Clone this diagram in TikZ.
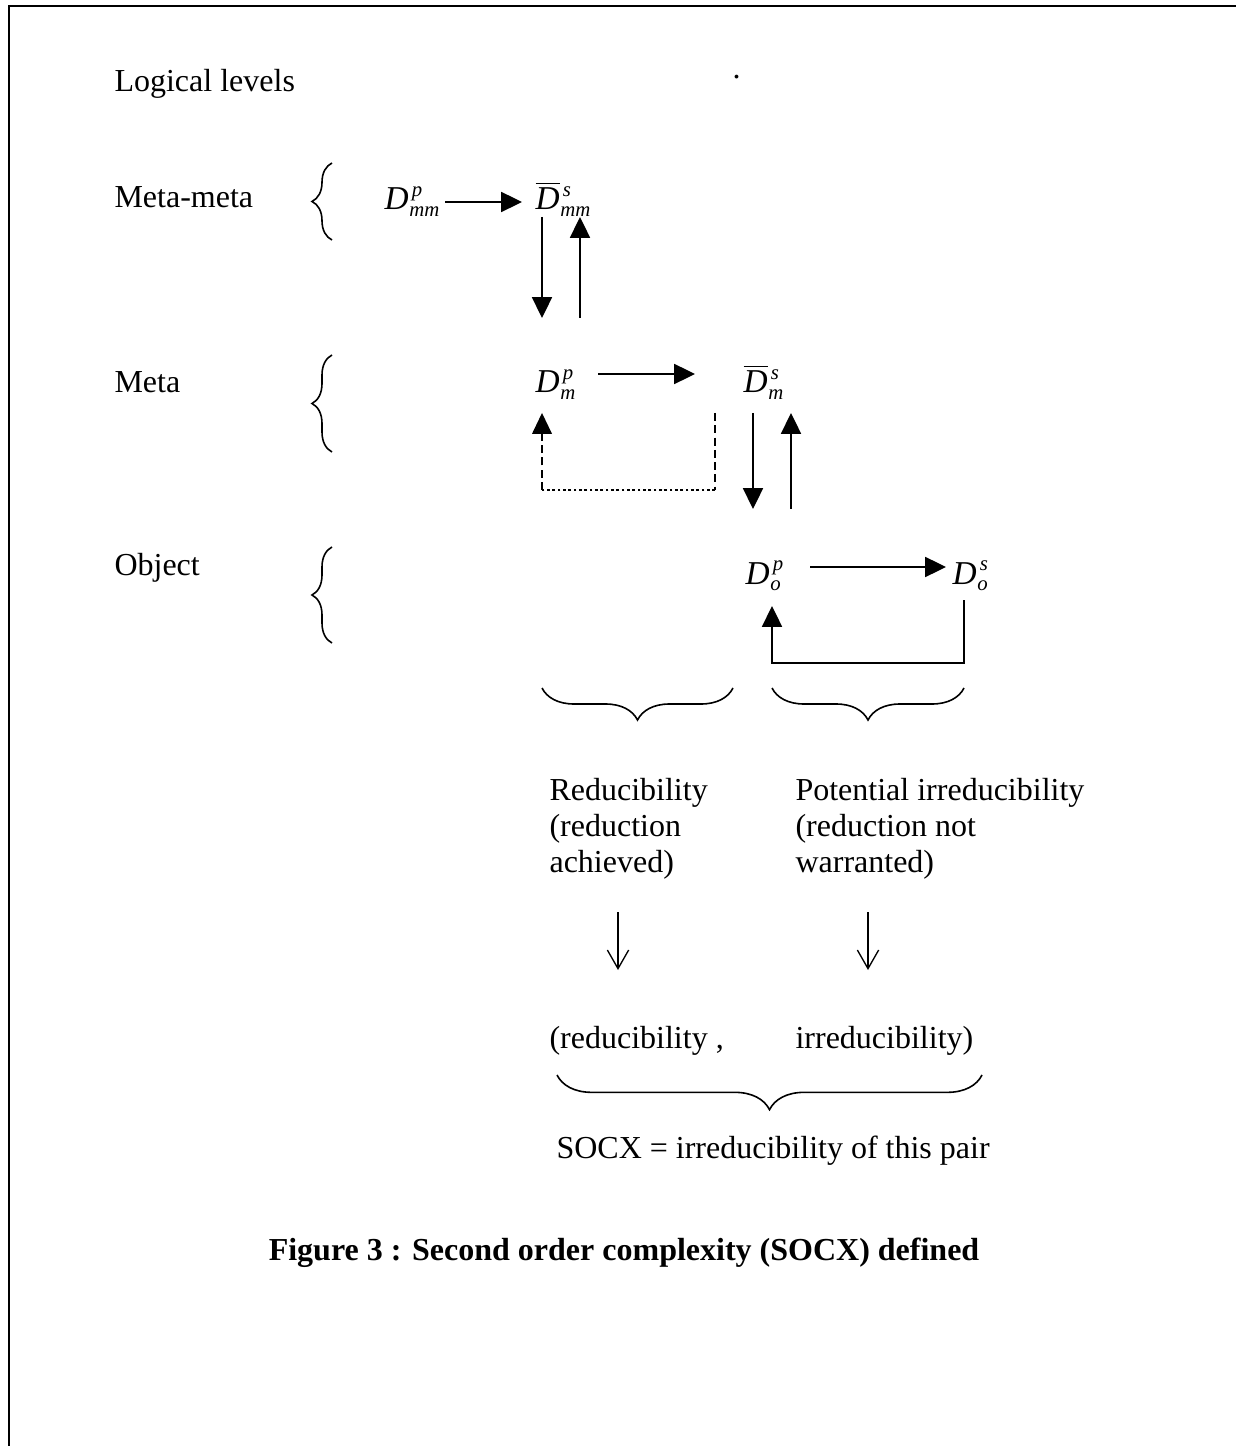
\documentclass[tikz,border=0pt]{standalone}
\usepackage{mathptmx}
\usepackage{fontspec}
\setmainfont{Liberation Serif}
\usetikzlibrary{arrows.meta,decorations.pathreplacing}
\newcommand{\scr}[1]{{\fontsize{7.8}{7.8}\selectfont\itshape #1}}
\newcommand{\Dsym}[3]{#1\rlap{\kern1.2pt\raisebox{4.9pt}{\scr{#2}}}\kern0.3pt\raisebox{-2.6pt}{\scr{#3}}}
\newcommand{\Dit}{\textit{D}}
\newcommand{\Dbar}{$\overline{\hbox{\itshape D}}$}
\tikzset{
  txt/.style={anchor=base west, inner sep=0pt, font=\fontsize{12}{13.5}\selectfont},
  mth/.style={anchor=base west, inner sep=0pt, font=\fontsize{12.5}{13.5}\selectfont},
  blk/.style={anchor=base west, inner sep=0pt, align=left, font=\fontsize{12}{13.5}\selectfont},
  arr/.style={line width=0.6pt, -{Triangle[length=7.8pt,width=7.5pt]}},
  varr/.style={line width=0.5pt, -{Straight Barb[length=7pt,width=8pt,line width=0.5pt]}},
  lbrace/.style={decorate, decoration={brace, amplitude=7.5pt}, line width=0.6pt},
  bbrace/.style={decorate, decoration={brace, amplitude=12pt}, line width=0.6pt},
  dsh/.style={line width=0.6pt, dash pattern=on 3pt off 1.6pt},
  dtt/.style={line width=0.6pt, dash pattern=on 1pt off 1pt},
}
\begin{document}
\begin{tikzpicture}[x=0.375pt,y=-0.375pt]
\useasboundingbox (0,0) rectangle (1236,1446);
\draw[line width=0.8pt] (9,1446) -- (9,6) -- (1236,6);

% level labels
\node[txt] (title) at (114,92) {Logical levels};
\node[txt] (dot) at (732,79) {.};
\node[txt] (mm) at (114,208) {Meta-meta};
\node[txt] (m) at (114,393) {Meta};
\node[txt] (o) at (114,575) {Object};

% left braces
\draw[lbrace] (332,240) -- (332,163);
\draw[lbrace] (332,452) -- (332,355);
\draw[lbrace] (332,643) -- (332,547);

% math nodes
\node[mth] (Dpmm) at (384,210) {\Dsym{\Dit}{p}{mm}};
\node[mth] (Dsmm) at (535,210) {\Dsym{\Dbar}{s}{mm}};
\node[mth] (Dpm) at (535,393) {\Dsym{\Dit}{p}{m}};
\node[mth] (Dsm) at (743,393) {\Dsym{\Dbar}{s}{m}};
\node[mth] (Dpo) at (745,584) {\Dsym{\Dit}{p}{o}};
\node[mth] (Dso) at (952,584) {\Dsym{\Dit}{s}{o}};

% coordinates for connectors
\coordinate (a1) at (445,202);
\coordinate (a2) at (522,202);
\coordinate (b1) at (542,217);
\coordinate (b2) at (542,318);
\coordinate (c1) at (580,318);
\coordinate (c2) at (580,217);
\coordinate (d1) at (598,374);
\coordinate (d2) at (695,374);
\coordinate (e1) at (753,413);
\coordinate (e2) at (753,509);
\coordinate (f1) at (791,509);
\coordinate (f2) at (791,413);
\coordinate (g1) at (810,567);
\coordinate (g2) at (946,567);
\coordinate (h1) at (715,413);
\coordinate (h2) at (715,490);
\coordinate (h3) at (542,490);
\coordinate (h4) at (542,413);
\coordinate (k1) at (964,600);
\coordinate (k2) at (964,663);
\coordinate (k3) at (772,663);
\coordinate (k4) at (772,606);

\draw[arr] (a1) -- (a2);
\draw[arr] (b1) -- (b2);
\draw[arr] (c1) -- (c2);
\draw[arr] (d1) -- (d2);
\draw[arr] (e1) -- (e2);
\draw[arr] (f1) -- (f2);
\draw[arr] (g1) -- (g2);
\draw[dsh] (h1) -- (h2);
\draw[dtt] (h2) -- (h3);
\draw[dsh] (h3) -- ([yshift=-6pt]h4);
\fill ([xshift=-3.75pt,yshift=-7.8pt]h4) -- ([xshift=3.75pt,yshift=-7.8pt]h4) -- (h4) -- cycle;
\draw[arr] (k1) -- (k2) -- (k3) -- (k4);

% bottom braces
\draw[bbrace] (733,688) -- (542,688);
\draw[bbrace] (964,688) -- (772,688);

% explanations
\node[blk] (red) at (549,872) {Reducibility\\(reduction\\achieved)};
\node[blk] (irr) at (795,872) {Potential irreducibility\\(reduction not\\warranted)};

\coordinate (p1) at (618,912);
\coordinate (p2) at (618,970);
\coordinate (q1) at (868,912);
\coordinate (q2) at (868,970);
\draw[varr] (p1) -- (p2);
\draw[varr] (q1) -- (q2);

\node[txt] (pr1) at (549,1048) {(reducibility ,};
\node[txt] (pr2) at (795,1048) {irreducibility)};

\draw[line width=0.6pt, decorate, decoration={brace, amplitude=13pt}] (982,1075) -- (557,1075);

\node[txt] (socx) at (556,1158) {SOCX = irreducibility of this pair};

\node[anchor=base, inner sep=0pt, font=\fontsize{12}{13.5}\selectfont\bfseries] (cap) at (624,1260) {Figure 3 : Second order complexity (SOCX) defined};
\end{tikzpicture}
\end{document}
